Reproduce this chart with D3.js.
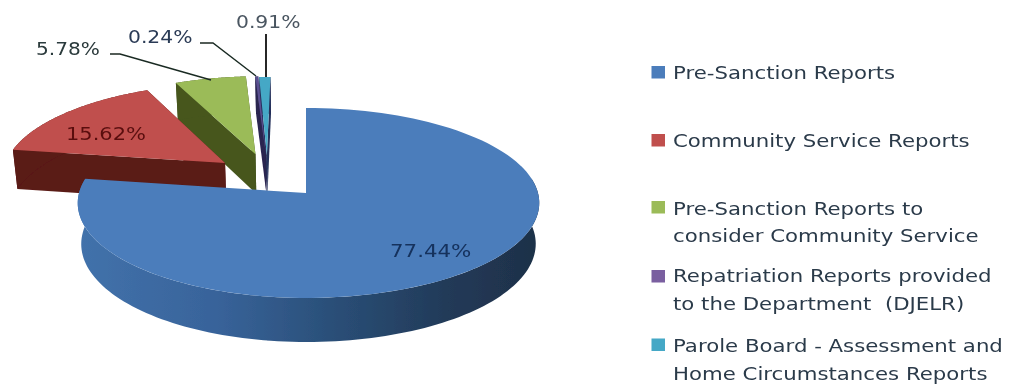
<!DOCTYPE html>
<html>
<head>
<meta charset="utf-8">
<script src="https://cdn.jsdelivr.net/npm/d3@7/dist/d3.min.js"></script>
<style>
html,body{margin:0;padding:0;background:#fff;overflow:hidden}
text{font-family:"DejaVu Sans",sans-serif;font-size:17.5px;fill:#2b3a4a;white-space:pre}
</style>
</head>
<body>
<svg id="c" width="1010" height="385"></svg>
<script>
// ---- data ----
const categories = ["Pre-Sanction Reports","Community Service Reports","Pre-Sanction Reports to consider Community Service","Repatriation Reports provided to the Department (DJELR)","Parole Board - Assessment and Home Circumstances Reports"];
const values = [77.44,15.62,5.78,0.24,0.91];
const valueLabels = ["77.44%","15.62%","5.78%","0.24%","0.91%"];
const legendLines = [["Pre-Sanction Reports"],["Community Service Reports"],["Pre-Sanction Reports to","consider Community Service"],["Repatriation Reports provided","to the Department  (DJELR)"],["Parole Board - Assessment and","Home Circumstances Reports"]];
const topColors = ["#4b7dbb","#c0504d","#9bbb59","#5a4f90","#45a8c6"];
const sideColors = ["#2c5480","#5a1a16","#46561f","#2a2550","#25305a"];

// ---- layout ----
const svg = d3.select("#c");
const apex = {x:306,y:193}, persp = 0.105, rimShift = 2.5;
const planes = [{R:229.5,k:93.9,d:0},{R:226,k:97,d:40.6}];
const explodeU = [0,-0.365,-0.23,-0.183,-0.178];
const explodeV = [0,0.33,0.43,0.43,0.42];
function proj(i,a,r,z){
  const u = explodeU[i]+r*Math.sin(a), v = explodeV[i]+r*Math.cos(a), w = 1+persp*v, p = planes[z];
  return [apex.x+rimShift*r*Math.abs(Math.sin(a))+p.R*u/w, apex.y+p.d-p.k*v/w];
}
const arcs = d3.pie().value(d=>d).sort(null)(values);
const line = d3.line();
const rim = (i,a0,a1,z)=>d3.range(0,121).map(t=>proj(i,a0+(a1-a0)*t/120,1,z));

const defs = svg.append("defs");
const blur = defs.append("filter").attr("id","soft").attr("x","-5%").attr("y","-5%").attr("width","110%").attr("height","110%");
blur.append("feGaussianBlur").attr("stdDeviation",0.55);
const grad = defs.append("linearGradient").attr("id","blueSide").attr("gradientUnits","userSpaceOnUse").attr("x1",78).attr("x2",540).attr("y1",0).attr("y2",0);
[[0,"#4272ab"],[0.3,"#38639a"],[0.55,"#2a4f78"],[0.8,"#223a58"],[1,"#1e3048"]].forEach(s=>grad.append("stop").attr("offset",s[0]).attr("stop-color",s[1]));
const root = svg.append("g").attr("filter","url(#soft)");

function sideFace(i,fill){ // outer wall + the two radial cut faces
  const s=arcs[i].startAngle,e=arcs[i].endAngle;
  const tops=rim(i,s,e,0), bots=rim(i,s,e,1).reverse();
  const ca0=proj(i,s,0,0), cb0=proj(i,s,0,1);
  root.append("path").attr("d",line([ca0,proj(i,s,1,0),proj(i,s,1,1),cb0])+"Z").attr("fill",fill);
  root.append("path").attr("d",line([ca0,proj(i,e,1,0),proj(i,e,1,1),cb0])+"Z").attr("fill",fill);
  root.append("path").attr("d",line(tops.concat(bots))+"Z").attr("fill",fill);
}
function topFace(i){
  const s=arcs[i].startAngle,e=arcs[i].endAngle;
  root.append("path").attr("d",line([proj(i,0,0,0)].concat(rim(i,s,e,0)))+"Z").attr("fill",topColors[i]);
}
// far slices first, main slice last
[2,4,3,1].forEach(i=>{ sideFace(i,sideColors[i]); topFace(i); });
const mainSlice=arcs[0];
const sideA0=Math.PI*0.45;
root.append("path").attr("d",line(rim(0,sideA0,mainSlice.endAngle,0).concat(rim(0,sideA0,mainSlice.endAngle,1).reverse()))+"Z").attr("fill","url(#blueSide)");
topFace(0);

// leaders
const leaders=[[[110,54],[120,54],[211,80]],[[200,43],[213,43],[256,76]],[[266,34],[266,77]]];
leaders.forEach((l,i)=>root.append("path").attr("d",line(l)).attr("fill","none").attr("stroke",i==2?"#111":"#1a2a22").attr("stroke-width",i==2?1.8:1.4));

function label(x,y,t,col,stretch){
  root.append("text").attr("transform",`translate(${x},${y}) scale(${stretch},1)`).text(t).style("fill",col||null);
}
label(390,257,valueLabels[0],"#14305c",1.22);
label(66,140,valueLabels[1],"#5a0f10",1.2);
label(36,55,valueLabels[2],"#2c3a3c",1.15);
label(128,43,valueLabels[3],"#2a3a55",1.16);
label(236,28,valueLabels[4],"#4a5560",1.16);

// legend
const swatchY=[66,134,201,270,338.5];
const baselines=[[79],[147],[215,242],[282,310],[352,380]];
legendLines.forEach((ls,i)=>{
  root.append("rect").attr("x",651.5).attr("y",swatchY[i]).attr("width",13.5).attr("height",12.5).attr("fill",i===3?"#7a5fa0":topColors[i]);
  ls.forEach((t,j)=>label(673,baselines[i][j],t,null,1.215));
});
</script>
</body>
</html>
